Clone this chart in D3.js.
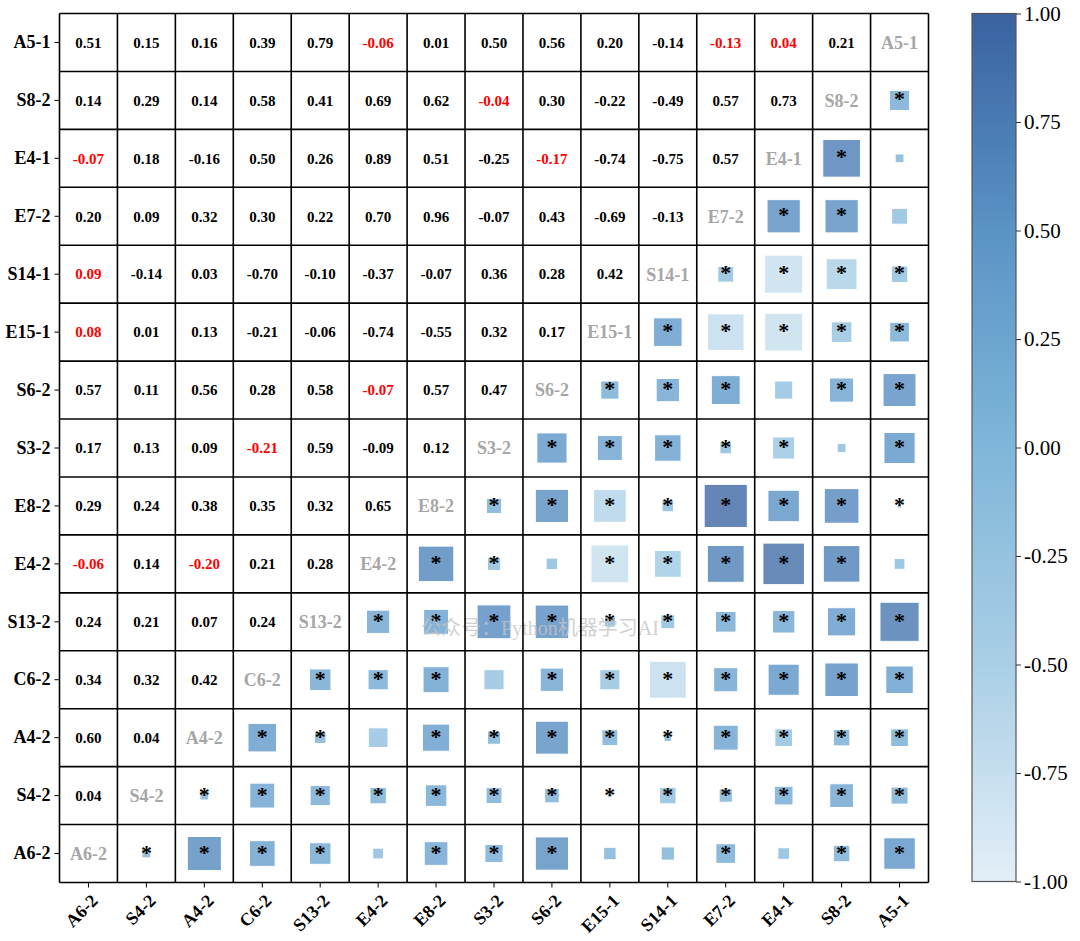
<!DOCTYPE html>
<html>
<head>
<meta charset="utf-8">
<script src="https://cdn.jsdelivr.net/npm/d3@7"></script>
<style>
html,body{margin:0;padding:0;background:#fff;}
svg{display:block;}
</style>
</head>
<body>
<svg id="chart" width="1080" height="941"></svg>
<script>
// Column order (left to right); row order is the reverse (top to bottom)
const columns = ["A6-2","S4-2","A4-2","C6-2","S13-2","E4-2","E8-2","S3-2","S6-2","E15-1","S14-1","E7-2","E4-1","S8-2","A5-1"];
const rows = ["A5-1","S8-2","E4-1","E7-2","S14-1","E15-1","S6-2","S3-2","E8-2","E4-2","S13-2","C6-2","A4-2","S4-2","A6-2"];

// Correlations printed in the upper-left triangle (row by row, columns from A6-2)
const rA5_1  = [0.51,0.15,0.16,0.39,0.79,-0.06,0.01,0.50,0.56,0.20,-0.14,-0.13,0.04,0.21];
const rS8_2  = [0.14,0.29,0.14,0.58,0.41,0.69,0.62,-0.04,0.30,-0.22,-0.49,0.57,0.73];
const rE4_1  = [-0.07,0.18,-0.16,0.50,0.26,0.89,0.51,-0.25,-0.17,-0.74,-0.75,0.57];
const rE7_2  = [0.20,0.09,0.32,0.30,0.22,0.70,0.96,-0.07,0.43,-0.69,-0.13];
const rS14_1 = [0.09,-0.14,0.03,-0.70,-0.10,-0.37,-0.07,0.36,0.28,0.42];
const rE15_1 = [0.08,0.01,0.13,-0.21,-0.06,-0.74,-0.55,0.32,0.17];
const rS6_2  = [0.57,0.11,0.56,0.28,0.58,-0.07,0.57,0.47];
const rS3_2  = [0.17,0.13,0.09,-0.21,0.59,-0.09,0.12];
const rE8_2  = [0.29,0.24,0.38,0.35,0.32,0.65];
const rE4_2  = [-0.06,0.14,-0.20,0.21,0.28];
const rS13_2 = [0.24,0.21,0.07,0.24];
const rC6_2  = [0.34,0.32,0.42];
const rA4_2  = [0.60,0.04];
const rS4_2  = [0.04];
const rA6_2  = [];
const corr = [rA5_1,rS8_2,rE4_1,rE7_2,rS14_1,rE15_1,rS6_2,rS3_2,rE8_2,rE4_2,rS13_2,rC6_2,rA4_2,rS4_2,rA6_2];

// Significance (1 = significant, 0 = not; non-significant values are printed red)
const sA5_1  = [1,1,1,1,1,0,1,1,1,1,1,0,0,1];
const sS8_2  = [1,1,1,1,1,1,1,0,1,1,1,1,1];
const sE4_1  = [0,1,1,1,1,1,1,1,0,1,1,1];
const sE7_2  = [1,1,1,1,1,1,1,1,1,1,1];
const sS14_1 = [0,1,1,1,1,1,1,1,1,1];
const sE15_1 = [0,1,1,1,1,1,1,1,1];
const sS6_2  = [1,1,1,1,1,0,1,1];
const sS3_2  = [1,1,1,0,1,1,1];
const sE8_2  = [1,1,1,1,1,1];
const sE4_2  = [0,1,0,1,1];
const sS13_2 = [1,1,1,1];
const sC6_2  = [1,1,1];
const sA4_2  = [1,1];
const sS4_2  = [1];
const sA6_2  = [];
const sig = [sA5_1,sS8_2,sE4_1,sE7_2,sS14_1,sE15_1,sS6_2,sS3_2,sE8_2,sE4_2,sS13_2,sC6_2,sA4_2,sS4_2,sA6_2];

const cbTicks = [1.00,0.75,0.50,0.25,0.00,-0.25,-0.50,-0.75,-1.00];
const watermark = "公众号：Python机器学习AI";

// ---------- drawing ----------
const n = columns.length;
const svg = d3.select("#chart");
const gx0 = 59.5, gy0 = 13.5, gsize = 869;
const x = d3.scaleBand().domain(columns).range([gx0, gx0 + gsize]);
const y = d3.scaleBand().domain(rows).range([gy0, gy0 + gsize]);
const cw = x.bandwidth();

const color = d3.scaleLinear()
  .domain([-1,-0.5,0,0.5,1])
  .range(["#e3eef7","#a9cfe6","#80b6d9","#5a93c6","#3a62a0"])
  .interpolate(d3.interpolateRgb);
const sizeScale = d3.scaleSqrt().domain([0,1]).range([0, cw*0.76]);

const serif = "'Liberation Serif','Times New Roman',serif";

// cells
const cells = [];
for (let r = 0; r < n; r++) {
  for (let c = 0; c < n; c++) {
    const diag = n - 1 - r;
    let type, v = null, s = null;
    if (c < diag) { type = "num"; v = corr[r][c]; s = sig[r][c]; }
    else if (c === diag) { type = "diag"; }
    else { type = "sq"; v = corr[n-1-c][n-1-r]; s = sig[n-1-c][n-1-r]; }
    cells.push({r, c, row: rows[r], col: columns[c], type, v, s});
  }
}

const g = svg.append("g");

// squares
const sq = cells.filter(d => d.type === "sq");
g.selectAll("rect.sq").data(sq).join("rect")
  .attr("class","sq")
  .attr("x", d => x(d.col) + cw/2 - sizeScale(Math.abs(d.v))/2)
  .attr("y", d => y(d.row) + cw/2 - sizeScale(Math.abs(d.v))/2)
  .attr("width", d => sizeScale(Math.abs(d.v)))
  .attr("height", d => sizeScale(Math.abs(d.v)))
  .attr("fill", d => color(d.v))
  .attr("fill-opacity", 0.8)
  .attr("stroke", "#ffffff")
  .attr("stroke-width", 1);

// watermark (drawn under the asterisks)
svg.append("text")
  .attr("x", 540).attr("y", 628)
  .attr("dy","0.35em")
  .attr("text-anchor","middle")
  .attr("font-family","'Liberation Serif','Noto Sans CJK SC',serif")
  .attr("font-size", 20)
  .attr("fill","#c4c4c4")
  .attr("fill-opacity",0.8)
  .text(watermark);

// asterisks
g.selectAll("text.star").data(sq.filter(d => d.s === 1)).join("text")
  .attr("class","star")
  .attr("x", d => x(d.col) + cw/2)
  .attr("y", d => y(d.row) + cw/2 + 6)
  .attr("text-anchor","middle")
  .attr("font-family", serif)
  .attr("font-weight","bold")
  .attr("font-size", 22)
  .attr("fill","#000")
  .text("*");

// numbers
g.selectAll("text.num").data(cells.filter(d => d.type === "num")).join("text")
  .attr("class","num")
  .attr("x", d => x(d.col) + cw/2)
  .attr("y", d => y(d.row) + cw/2)
  .attr("dy","0.35em")
  .attr("text-anchor","middle")
  .attr("font-family", serif)
  .attr("font-weight","bold")
  .attr("font-size", 15)
  .attr("fill", d => d.s ? "#000000" : "#ff0000")
  .text(d => d3.format(".2f")(d.v).replace("−","-"));

// diagonal labels
g.selectAll("text.diag").data(cells.filter(d => d.type === "diag")).join("text")
  .attr("class","diag")
  .attr("x", d => x(d.col) + cw/2)
  .attr("y", d => y(d.row) + cw/2)
  .attr("dy","0.35em")
  .attr("text-anchor","middle")
  .attr("font-family", serif)
  .attr("font-weight","bold")
  .attr("font-size", 18)
  .attr("fill", "#a6a6a6")
  .text(d => d.row);

// grid lines
const grid = svg.append("g");
for (let i = 0; i <= n; i++) {
  const p = gx0 + i*cw;
  grid.append("line").attr("x1", p).attr("x2", p).attr("y1", gy0).attr("y2", gy0+gsize)
    .attr("stroke","#000").attr("stroke-width",1.6);
  const q = gy0 + i*cw;
  grid.append("line").attr("x1", gx0).attr("x2", gx0+gsize).attr("y1", q).attr("y2", q)
    .attr("stroke","#000").attr("stroke-width",1.6);
}

// axes
const xAxis = svg.append("g").attr("transform", `translate(0,${gy0+gsize})`)
  .call(d3.axisBottom(x).tickSize(5).tickSizeOuter(0));
xAxis.select(".domain").remove();
xAxis.selectAll(".tick line").attr("stroke","#000").attr("stroke-width",1);
xAxis.selectAll(".tick text")
  .attr("font-family", serif).attr("font-weight","bold").attr("font-size",18).attr("fill","#000")
  .attr("text-anchor","end")
  .attr("transform","translate(6,15) rotate(-45)")
  .attr("dy","0.35em").attr("y",0).attr("x",0);

const yAxis = svg.append("g").attr("transform", `translate(${gx0},0)`)
  .call(d3.axisLeft(y).tickSize(5).tickSizeOuter(0));
yAxis.select(".domain").remove();
yAxis.selectAll(".tick line").attr("stroke","#000").attr("stroke-width",1);
yAxis.selectAll(".tick text")
  .attr("font-family", serif).attr("font-weight","bold").attr("font-size",18).attr("fill","#000")
  .attr("x",-9);

// colorbar
const cbx = 972, cbw = 44, cby0 = 13.5, cby1 = 881.5;
const cbScale = d3.scaleLinear().domain([-1,1]).range([cby1, cby0]);
const defs = svg.append("defs");
const grad = defs.append("linearGradient").attr("id","cbgrad")
  .attr("x1","0").attr("y1","1").attr("x2","0").attr("y2","0");
d3.range(0, 1.0001, 0.05).forEach(t => {
  grad.append("stop").attr("offset", t).attr("stop-color", color(-1 + 2*t));
});
svg.append("rect").attr("x",cbx).attr("y",cby0).attr("width",cbw).attr("height",cby1-cby0)
  .attr("fill","url(#cbgrad)").attr("stroke","#555").attr("stroke-width",1.2);
const cbAxis = svg.append("g").attr("transform", `translate(${cbx+cbw},0)`)
  .call(d3.axisRight(cbScale).tickValues(cbTicks).tickFormat(d3.format(".2f")).tickSize(5).tickSizeOuter(0));
cbAxis.select(".domain").remove();
cbAxis.selectAll(".tick line").attr("stroke","#333");
cbAxis.selectAll(".tick text")
  .attr("font-family", serif).attr("font-size",21).attr("fill","#000").attr("x",8)
  .text(d => d3.format(".2f")(d).replace("−","-"));
</script>
</body>
</html>
